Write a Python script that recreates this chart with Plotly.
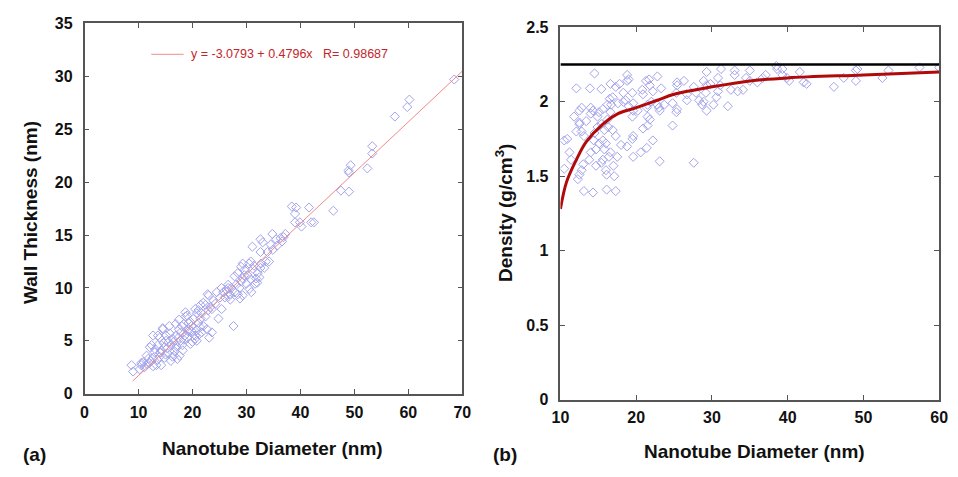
import plotly.graph_objects as go

# ---------------- Panel (a): wall thickness vs diameter ----------------
diam_a = [68.5, 57.5, 59.8, 60.2, 53.3, 53.3, 52.4, 49.3, 48.9, 49.0,
          49.0, 47.5, 46.1, 41.6, 38.4, 39.2, 39.0, 39.0, 39.9, 40.2,
          42.0, 42.5, 34.8, 37.2, 36.9, 36.3, 32.6, 31.1, 33.0, 34.5,
          35.7, 36.6, 32.6, 34.2, 30.8, 29.3, 29.0, 29.6, 31.2, 32.6,
          33.3, 28.4, 30.2, 27.8, 29.3, 30.8, 32.0, 28.1, 26.6, 27.2,
          28.7, 30.5, 25.4, 25.7, 27.8, 29.3, 26.7, 25.1, 22.8, 23.9,
          22.4, 21.5, 23.3, 25.4, 24.8, 27.6, 23.1, 20.5, 18.7, 19.0,
          20.8, 21.7, 22.4, 19.6, 17.5, 21.1, 22.0, 18.4, 16.9, 15.7,
          14.5, 17.5, 19.3, 20.8, 21.7, 20.5, 19.0, 19.6, 20.8, 12.7,
          13.9, 15.1, 16.3, 17.8, 12.1, 13.6, 14.8, 16.0, 16.9, 18.2,
          13.0, 14.2, 15.4, 16.3, 17.2, 16.0, 11.5, 12.7, 13.9, 14.8,
          10.9, 12.0, 13.3, 14.2, 12.7, 10.5, 8.7, 9.0, 10.2, 11.1,
          10.5, 11.8, 12.4, 13.6, 14.5, 15.1, 16.6, 17.6, 16.9, 17.8,
          18.1, 18.7, 19.3, 19.9, 20.5, 21.1, 22.0, 21.5, 22.9, 22.7,
          23.6, 23.0, 23.6, 26.0, 26.9, 26.6, 28.4, 29.0, 29.6, 30.0,
          30.5, 31.4, 31.8, 32.4, 32.1, 32.7, 33.6, 33.9, 12.3, 13.5,
          14.0, 14.6, 15.3, 15.8, 16.5, 17.0, 17.4, 18.0, 18.6, 19.2,
          19.8, 20.2, 21.2, 11.6, 13.1, 15.0, 15.6, 16.7, 18.4, 20.0,
          21.4, 24.2, 24.5, 26.3, 27.0, 28.8, 30.9, 31.6, 34.9, 35.5]
wall_a = [29.7, 26.2, 27.1, 27.8, 23.4, 22.7, 21.3, 21.6, 21.1, 20.9,
          19.1, 19.2, 17.3, 17.6, 17.7, 17.6, 17.0, 16.2, 16.2, 15.8,
          16.2, 16.2, 15.1, 15.1, 14.8, 14.7, 14.6, 13.9, 14.3, 14.1,
          14.0, 14.4, 13.4, 12.5, 12.5, 12.3, 12.0, 11.7, 11.8, 11.9,
          11.9, 11.4, 11.2, 11.1, 10.9, 10.8, 10.5, 10.3, 10.3, 10.0,
          10.0, 9.9, 10.0, 9.6, 9.6, 9.3, 9.2, 9.1, 9.4, 8.8,
          8.4, 8.4, 8.2, 8.0, 7.1, 6.4, 5.3, 8.0, 7.7, 7.4,
          7.6, 7.6, 7.3, 6.8, 7.0, 6.7, 6.4, 6.6, 6.6, 6.4,
          6.1, 6.1, 6.1, 6.0, 5.8, 5.5, 5.3, 4.7, 5.0, 5.5,
          5.3, 5.5, 5.2, 5.0, 4.4, 4.6, 4.4, 4.6, 4.3, 4.1,
          3.9, 4.1, 3.8, 3.5, 3.3, 3.1, 3.6, 3.4, 3.5, 3.4,
          3.0, 2.9, 2.7, 2.7, 2.6, 2.7, 2.7, 2.1, 2.3, 2.5,
          2.9, 3.3, 4.6, 5.5, 6.2, 5.0, 3.6, 3.6, 5.5, 5.8,
          4.6, 7.3, 6.7, 5.9, 5.2, 7.9, 8.6, 7.1, 7.9, 6.1,
          5.8, 9.3, 8.0, 9.1, 9.4, 10.0, 9.4, 10.6, 11.2, 10.4,
          12.3, 12.1, 10.9, 11.0, 11.4, 12.3, 12.5, 13.4, 3.1, 3.2,
          3.9, 4.8, 4.3, 5.7, 4.9, 4.5, 5.3, 6.4, 5.5, 5.9,
          6.4, 7.1, 5.6, 2.8, 4.2, 3.7, 4.9, 4.0, 5.1, 4.9,
          6.3, 8.5, 9.6, 9.8, 8.9, 9.0, 9.6, 10.4, 13.6, 14.6]

fit_d = [8.9, 70.0]
fit_t = [1.19, 30.49]
fit_label = "y = -3.0793 + 0.4796x   R= 0.98687"

# ---------------- Panel (b): density vs diameter ----------------
diam_b = [14.5, 12.1, 13.9, 15.4, 16.6, 17.3, 17.8, 18.8, 19.0, 18.8,
          20.8, 21.3, 21.7, 21.8, 22.8, 23.3, 22.2, 20.9, 19.5, 18.3,
          16.9, 16.7, 16.2, 15.6, 16.6, 17.6, 18.3, 18.6, 19.0, 19.6,
          19.6, 19.5, 20.2, 21.4, 21.5, 22.0, 22.8, 23.0, 23.7, 23.1,
          21.5, 21.8, 21.5, 20.9, 22.2, 21.4, 20.6, 19.6, 19.5, 19.6,
          18.8, 18.0, 17.5, 17.0, 17.1, 17.3, 16.1, 14.3, 13.1, 16.1,
          16.0, 16.6, 16.4, 15.6, 15.4, 14.7, 15.8, 16.0, 15.6, 15.1,
          14.7, 14.0, 13.8, 13.0, 12.8, 12.5, 12.3, 11.4, 11.2, 10.5,
          10.5, 10.9, 12.1, 12.8, 13.1, 12.5, 13.4, 14.0, 14.3, 14.0,
          12.8, 12.5, 11.8, 12.5, 14.9, 15.1, 14.9, 15.4, 16.2, 16.3,
          16.9, 17.3, 15.8, 14.5, 14.4, 16.5, 23.1, 27.6, 24.8, 25.3,
          25.4, 24.8, 25.4, 25.4, 26.3, 25.3, 26.7, 26.7, 27.6, 27.9,
          28.3, 28.9, 28.7, 29.3, 28.9, 29.3, 29.3, 29.2, 29.8, 30.2,
          30.6, 30.8, 31.1, 31.2, 30.8, 32.1, 32.5, 33.0, 33.0, 33.4,
          34.1, 35.0, 34.5, 35.0, 36.0, 36.7, 37.1, 38.5, 38.6, 39.3,
          39.3, 39.9, 40.2, 41.6, 42.1, 42.5, 46.1, 47.4, 49.0, 49.2,
          49.0, 52.5, 53.3, 57.4, 60.0]
dens_b = [2.19, 2.09, 2.09, 2.085, 2.12, 2.10, 2.12, 2.18, 2.15, 2.14,
          2.08, 2.14, 2.15, 2.11, 2.17, 2.09, 2.07, 2.05, 2.06, 2.06,
          2.03, 1.98, 1.98, 1.95, 1.93, 1.99, 2.00, 2.01, 1.97, 1.99,
          1.94, 1.90, 1.94, 1.96, 1.98, 2.00, 1.98, 1.96, 1.98, 1.94,
          1.90, 1.88, 1.84, 1.82, 1.74, 1.69, 1.66, 1.77, 1.75, 1.63,
          1.70, 1.71, 1.63, 1.57, 1.50, 1.40, 1.41, 1.39, 1.40, 1.51,
          1.54, 1.66, 1.63, 1.61, 1.59, 1.57, 1.68, 1.72, 1.74, 1.72,
          1.68, 1.66, 1.61, 1.58, 1.54, 1.51, 1.48, 1.61, 1.66, 1.55,
          1.74, 1.75, 1.80, 1.80, 1.77, 1.85, 1.87, 1.92, 1.94, 1.96,
          1.96, 1.94, 1.90, 1.86, 1.90, 1.93, 1.83, 1.85, 1.88, 1.83,
          1.81, 1.77, 1.81, 1.79, 1.74, 2.02, 1.60, 1.59, 1.84, 1.93,
          1.95, 1.99, 2.11, 2.13, 2.14, 2.06, 2.05, 2.01, 2.10, 2.06,
          2.01, 2.00, 1.98, 1.94, 2.14, 2.20, 2.11, 2.06, 2.12, 1.98,
          2.03, 2.07, 2.11, 2.22, 2.16, 1.97, 2.08, 2.21, 2.18, 2.07,
          2.08, 2.21, 2.16, 2.14, 2.13, 2.16, 2.18, 2.24, 2.22, 2.22,
          2.18, 2.16, 2.14, 2.20, 2.13, 2.12, 2.10, 2.16, 2.21, 2.22,
          2.14, 2.16, 2.21, 2.23, 2.23]

curve_d = [10, 10.8, 12.1, 13.4, 15.6, 17.6, 20, 22.8, 25, 30, 35, 40, 50, 60]
curve_rho = [1.28, 1.46, 1.61, 1.73, 1.85, 1.92, 1.96, 2.01, 2.05, 2.10, 2.14, 2.16, 2.18, 2.20]

graphite_d = [10, 60]
graphite_rho = [2.25, 2.25]

# ---------------- Figure ----------------
W, H = 958, 477
def px(x):
    return x / W
def py(y):
    return 1 - y / H

FONT = "Liberation Sans, Arial, sans-serif"
MK = "#a3a3ec"

fig = go.Figure()

fig.add_trace(go.Scatter(x=diam_a, y=wall_a, mode="markers", xaxis="x", yaxis="y",
                         marker=dict(symbol="diamond-open", size=7, color=MK,
                                     line=dict(width=1, color=MK)),
                         showlegend=False, hoverinfo="skip"))
fig.add_trace(go.Scatter(x=fit_d, y=fit_t, mode="lines", xaxis="x", yaxis="y",
                         line=dict(color="#ef8a8a", width=1), showlegend=False))

fig.add_trace(go.Scatter(x=diam_b, y=dens_b, mode="markers", xaxis="x2", yaxis="y2",
                         marker=dict(symbol="diamond-open", size=7, color=MK,
                                     line=dict(width=1, color=MK)),
                         showlegend=False, hoverinfo="skip"))
fig.add_trace(go.Scatter(x=graphite_d, y=graphite_rho, mode="lines", xaxis="x2", yaxis="y2",
                         line=dict(color="black", width=2.5), showlegend=False))
fig.add_trace(go.Scatter(x=curve_d, y=curve_rho, mode="lines", xaxis="x2", yaxis="y2",
                         line=dict(color="#b00a0a", width=3, shape="spline"), showlegend=False))

axis_common = dict(showline=True, linecolor="#555", linewidth=1.5, mirror="ticks",
                   ticks="inside", ticklen=5, tickcolor="#555", tickwidth=1,
                   showgrid=False, zeroline=False,
                   tickfont=dict(family=FONT, size=16, color="#111", weight="bold"))

fig.update_layout(
    width=W, height=H, margin=dict(l=0, r=0, t=0, b=0),
    paper_bgcolor="white", plot_bgcolor="white",
    xaxis=dict(domain=[px(77), px(462)], range=[0, 70], dtick=10, anchor="y",
               ticklabelstandoff=3, **axis_common),
    yaxis=dict(domain=[py(400), py(16)], range=[0, 35], dtick=5, anchor="x",
               ticklabelstandoff=7, **axis_common),
    xaxis2=dict(domain=[px(562), px(948)], range=[10, 60], dtick=10, anchor="y2",
                ticklabelstandoff=3, **axis_common),
    yaxis2=dict(domain=[py(406), py(20)], range=[0, 2.5], dtick=0.5, anchor="x2",
                ticklabelstandoff=7, **axis_common),
)

title_font = dict(family=FONT, size=19, color="#111", weight="bold")
ann = [
    dict(text="Nanotube Diameter (nm)", x=px(269), y=py(457)),
    dict(text="Nanotube Diameter (nm)", x=px(760), y=py(460)),
    dict(text="(a)", x=px(26), y=py(463)),
    dict(text="(b)", x=px(506), y=py(463)),
    dict(text="Wall Thickness (nm)", x=px(22), y=py(212), textangle=-90),
    dict(text="Density (g/cm<sup>3</sup>)", x=px(505), y=py(213), textangle=-90),
]
for a in ann:
    fig.add_annotation(xref="paper", yref="paper", showarrow=False,
                       xanchor="center", yanchor="middle", font=title_font, **a)

fig.add_annotation(xref="paper", yref="paper", x=px(183), y=py(48), text=fit_label,
                   showarrow=False, xanchor="left", yanchor="middle",
                   font=dict(family=FONT, size=12.5, color="#c0272d"))
fig.add_shape(type="line", xref="paper", yref="paper", x0=px(145), x1=px(178),
              y0=py(48), y1=py(48), line=dict(color="#ef8a8a", width=1))

fig.write_html("out.html")
